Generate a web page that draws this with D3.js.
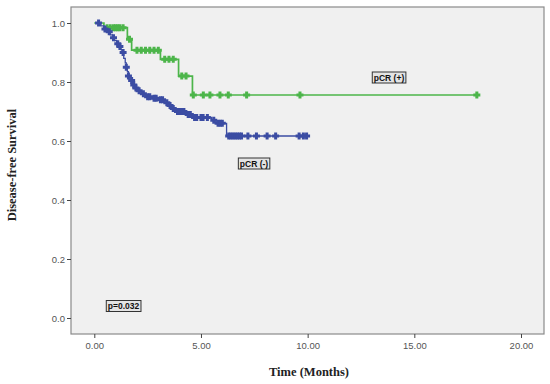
<!DOCTYPE html>
<html>
<head>
<meta charset="utf-8">
<script src="https://cdn.jsdelivr.net/npm/d3@7"></script>
<style>
  body { margin: 0; background: #fff; }
  .tick text { font-family: "Liberation Sans", Arial, sans-serif; font-size: 9.5px; fill: #555; }
  .tick line { stroke: #444; }
</style>
</head>
<body>
<div class="container_main"></div>
<script>
// Kaplan-Meier steps: [time, survival after step]
const negSteps = [[0.15,1.0],[0.3,0.99],[0.45,0.98],[0.6,0.97],[0.75,0.96],[0.85,0.95],[0.95,0.94],[1.05,0.93],
  [1.15,0.92],[1.25,0.91],[1.3,0.90],[1.38,0.88],[1.45,0.865],[1.5,0.85],[1.55,0.835],[1.6,0.82],[1.68,0.805],
  [1.8,0.79],[1.9,0.78],[2.0,0.77],[2.2,0.76],[2.4,0.75],[2.7,0.745],[3.0,0.74],[3.3,0.73],[3.5,0.72],
  [3.6,0.71],[3.8,0.70],[4.3,0.69],[4.6,0.68],[5.5,0.67],[5.7,0.66],[6.2,0.617]];
const negCensor = [0.2,0.5,0.7,0.9,1.1,1.2,1.35,1.5,1.6,1.75,1.85,1.95,2.1,2.3,2.5,2.6,2.8,2.9,3.1,3.2,3.4,3.55,
  3.7,3.9,4.0,4.1,4.2,4.4,4.5,4.7,4.8,5.0,5.1,5.3,5.6,5.8,5.9,6.0,6.3,6.4,6.5,6.6,6.7,6.8,6.9,7.2,7.6,8.1,8.5,9.6,9.8,9.95];
const posSteps = [[0,1.0],[0.45,0.984],[1.55,0.945],[1.75,0.908],[3.1,0.877],[3.95,0.82],[4.6,0.756]];
const posCensor = [0.6,0.75,0.9,1.0,1.1,1.2,1.35,1.65,2.0,2.2,2.4,2.6,2.8,3.0,3.3,3.5,3.7,4.1,4.3,
  4.64,5.11,5.42,5.89,6.28,7.14,9.64,17.93];
const xTicks = [0,5,10,15,20];
const yTicks = [0,0.2,0.4,0.6,0.8,1.0];

const svgwidth = 550, svgheight = 384;
const frame = {left: 71, top: 7, right: 544, bottom: 334};

const svg = d3.select('.container_main')
  .append("svg")
  .attr("width", svgwidth)
  .attr("height", svgheight);

const posX = d3.scaleLinear().domain([0, 20]).range([94.3, 521]);
const posY = d3.scaleLinear().domain([0, 1]).range([318, 23]);

// plot background + frame
svg.append("rect")
  .attr("x", frame.left).attr("y", frame.top)
  .attr("width", frame.right - frame.left).attr("height", frame.bottom - frame.top)
  .attr("fill", "#f0f0f0").attr("stroke", "#8a8a8a").attr("stroke-width", 1.2);

// axes
const yAxis = svg.append("g")
  .attr("transform", "translate(" + frame.left + ",0)")
  .call(d3.axisLeft(posY).tickValues(yTicks).tickFormat(d3.format(".1f")).tickSize(4).tickPadding(2));
yAxis.select(".domain").remove();

const xAxis = svg.append("g")
  .attr("transform", "translate(0," + frame.bottom + ")")
  .call(d3.axisBottom(posX).tickValues(xTicks).tickFormat(d3.format(".2f")).tickSize(4).tickPadding(4));
xAxis.select(".domain").remove();

// axis titles
svg.append("text")
  .attr("x", 309).attr("y", 376)
  .attr("text-anchor", "middle")
  .attr("font-family", "Liberation Serif, Times New Roman, serif")
  .attr("font-weight", "bold").attr("font-size", "12.5px")
  .attr("fill", "#222")
  .text("Time (Months)");
svg.append("text")
  .attr("transform", "translate(16,165) rotate(-90)")
  .attr("text-anchor", "middle")
  .attr("font-family", "Liberation Serif, Times New Roman, serif")
  .attr("font-weight", "bold").attr("font-size", "12.5px")
  .attr("fill", "#222")
  .text("Disease-free Survival");

// survival curves
const survAt = function(steps, t) {
  let s = steps[0][1];
  steps.forEach(function(d) { if (d[0] <= t) s = d[1]; });
  return s;
};
const stepLine = d3.line()
  .x(function(d) { return posX(d[0]); })
  .y(function(d) { return posY(d[1]); })
  .curve(d3.curveStepAfter);

const drawCurve = function(steps, censor, color, lw) {
  const last = d3.max(censor);
  const pts = steps.concat([[last, survAt(steps, last)]]);
  svg.append("path")
    .attr("d", stepLine(pts))
    .attr("fill", "none")
    .attr("stroke", color)
    .attr("stroke-width", lw);
  const g = svg.append("g");
  censor.forEach(function(t) {
    const cx = posX(t), cy = posY(survAt(steps, t));
    g.append("path")
      .attr("d", "M" + (cx - 3.5) + "," + cy + "H" + (cx + 3.5) + "M" + cx + "," + (cy - 3.5) + "V" + (cy + 3.5))
      .attr("stroke", color)
      .attr("stroke-width", 3);
  });
};

drawCurve(posSteps, posCensor, "#4cb54a", 1.7);
drawCurve(negSteps, negCensor, "#3b4ca3", 1.3);

// boxed labels
const labels = [["pCR (+)", 389, 77.5], ["pCR (-)", 254, 163.5], ["p=0.032", 123.5, 306]];
labels.forEach(function(l) {
  const g = svg.append("g");
  const t = g.append("text")
    .attr("x", l[1]).attr("y", l[2] + 3)
    .attr("text-anchor", "middle")
    .attr("font-family", "Liberation Sans, Arial, sans-serif")
    .attr("font-weight", "bold").attr("font-size", "8.5px")
    .attr("fill", "#111")
    .text(l[0]);
  const bb = t.node().getBBox();
  g.insert("rect", "text")
    .attr("x", bb.x - 1.5).attr("y", l[2] - 5.5)
    .attr("width", bb.width + 3).attr("height", 11)
    .attr("fill", "#e4e4e4").attr("stroke", "#333").attr("stroke-width", 1);
});
</script>
</body>
</html>
